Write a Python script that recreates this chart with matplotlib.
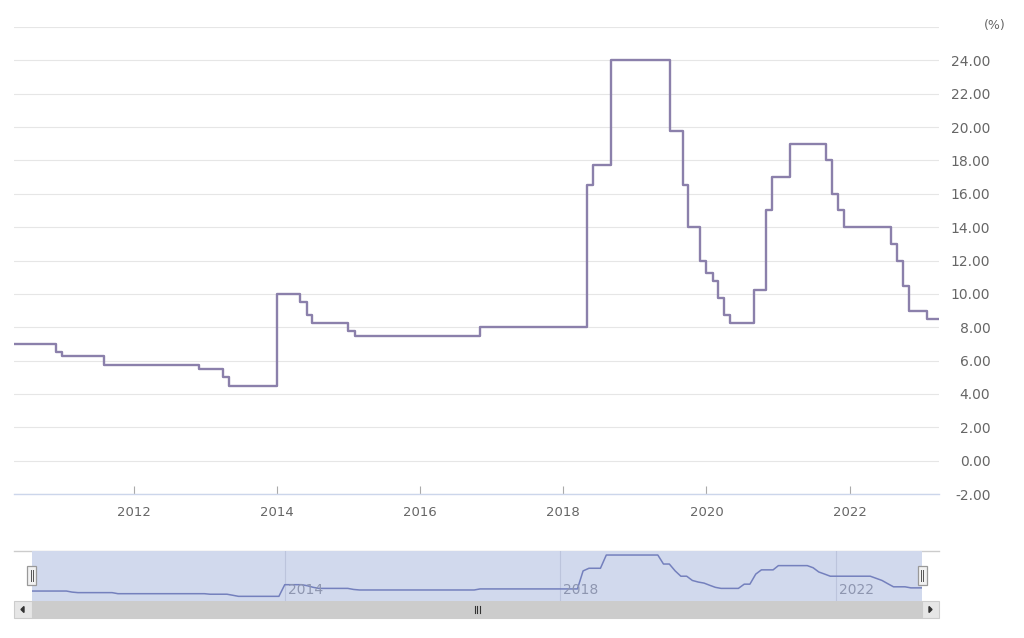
import numpy as np
import pandas as pd
import matplotlib
matplotlib.use('Agg')
import matplotlib.pyplot as plt
import matplotlib.dates as mdates
import matplotlib.transforms as mtransforms
from matplotlib.patches import Rectangle, Polygon

# policy rate (%), months in which the value changed
change_months = ['2010-05', '2010-12', '2011-01', '2011-08', '2012-12', '2013-04',
                 '2013-05', '2014-01', '2014-05', '2014-06', '2014-07', '2015-01',
                 '2015-02', '2016-11', '2018-05', '2018-06', '2018-09', '2019-07',
                 '2019-09', '2019-10', '2019-12', '2020-01', '2020-02', '2020-03',
                 '2020-04', '2020-05', '2020-09', '2020-11', '2020-12', '2021-03',
                 '2021-09', '2021-10', '2021-11', '2021-12', '2022-08', '2022-09',
                 '2022-10', '2022-11', '2023-02']
rates = [7.00, 6.50, 6.25, 5.75, 5.50, 5.00,
         4.50, 10.00, 9.50, 8.75, 8.25, 7.75,
         7.50, 8.00, 16.50, 17.75, 24.00, 19.75,
         16.50, 14.00, 12.00, 11.25, 10.75, 9.75,
         8.75, 8.25, 10.25, 15.00, 17.00, 19.00,
         18.00, 16.00, 15.00, 14.00, 13.00, 12.00,
         10.50, 9.00, 8.50]
last_month = '2023-04'
y_ticks = [-2, 0, 2, 4, 6, 8, 10, 12, 14, 16, 18, 20, 22, 24, 26]
nav_labels = ['2014', '2018', '2022']

dates = pd.to_datetime(change_months)
end = pd.Timestamp(last_month)
x_step = list(dates) + [end]
y_step = rates + [rates[-1]]

# navigator draws the monthly series as a plain line
x_nav, y_nav = [dates[0]], [rates[0]]
for i in range(1, len(dates)):
    prev = dates[i] - pd.DateOffset(months=1)
    if prev > x_nav[-1]:
        x_nav.append(prev)
        y_nav.append(rates[i - 1])
    x_nav.append(dates[i])
    y_nav.append(rates[i])
x_nav.append(end)
y_nav.append(rates[-1])

W, H = 1024, 638
fig = plt.figure(figsize=(W / 100, H / 100), dpi=100)
fig.patch.set_facecolor('white')

# chrome behind (pixel coords)
bg = fig.add_axes([0, 0, 1, 1], zorder=0)
bg.set_xlim(0, W)
bg.set_ylim(H, 0)
bg.axis('off')
bg.plot([14, 939], [551, 551], color='#cccccc', lw=1)
bg.add_patch(Rectangle((14, 601), 925, 17, facecolor='#f2f2f2', edgecolor='none'))
bg.add_patch(Rectangle((31.7, 601), 890.3, 17, facecolor='#cccccc', edgecolor='#cccccc', lw=0.8))
bg.add_patch(Rectangle((14, 601), 17.7, 17, facecolor='#e6e6e6', edgecolor='#cccccc', lw=0.8))
bg.add_patch(Rectangle((922, 601), 17, 17, facecolor='#e6e6e6', edgecolor='#cccccc', lw=0.8))
bg.add_patch(Polygon([[21, 609.5], [24, 606.5], [24, 612.5]], closed=True, color='#333333'))
bg.add_patch(Polygon([[932, 609.5], [929, 606.5], [929, 612.5]], closed=True, color='#333333'))
for gx in (474.5, 477, 479.5):
    bg.plot([gx, gx], [605.5, 613], color='#333333', lw=0.8)

# main chart
ax = fig.add_axes([14 / W, 1 - 494 / H, 925 / W, 467 / H], zorder=2)
ax.step(x_step, y_step, where='post', color='#8b80ab', lw=1.7, zorder=3)
ax.set_xlim(dates[0], end)
ax.set_ylim(-2, 26)
ax.set_facecolor('none')
ax.yaxis.tick_right()
ax.set_yticks(y_ticks)
ax.set_yticklabels([f'{v:.2f}' if v < 26 else '' for v in y_ticks], ha='right')
ax.tick_params(axis='y', length=0, pad=37, labelcolor='#666666', labelsize=10)
ax.xaxis.set_major_locator(mdates.YearLocator(2))
ax.xaxis.set_major_formatter(mdates.DateFormatter('%Y'))
ax.tick_params(axis='x', direction='in', length=6, color='#aaaaaa', width=0.8,
               pad=9, labelcolor='#666666', labelsize=9.5)
ax.yaxis.grid(True, color='#e6e6e6', lw=0.8)
ax.set_axisbelow(True)
for s in ('top', 'left', 'right'):
    ax.spines[s].set_visible(False)
ax.spines['bottom'].set_color('#ccd6eb')
ax.spines['bottom'].set_linewidth(1)
fig.text(1006 / W, 1 - 26 / H, '(%)', ha='right', va='center', fontsize=9, color='#666666')

# navigator
nav = fig.add_axes([31.7 / W, 1 - 601 / H, 890.3 / W, 50 / H], zorder=3)
nav.set_facecolor('#d1d9ed')
nav.plot(x_nav, y_nav, color='#7480bd', lw=1.1)
nav.set_xlim(dates[0], end)
nav.set_ylim(2.3, 25.9)
nav.set_xticks([])
nav.set_yticks([])
for s in nav.spines.values():
    s.set_visible(False)
lbl_tr = mtransforms.offset_copy(nav.get_xaxis_transform(), fig=fig, x=3, y=0, units='dots')
for lab in nav_labels:
    d = pd.Timestamp(lab + '-01-01')
    nav.axvline(d, color='#bcc4dc', lw=0.8, zorder=0)
    nav.text(d, 0.22, lab, transform=lbl_tr, ha='left', va='center',
             fontsize=10, color='#8e96b0')

# handles in front
fg = fig.add_axes([0, 0, 1, 1], zorder=10)
fg.set_xlim(0, W)
fg.set_ylim(H, 0)
fg.axis('off')
fg.patch.set_alpha(0)
for hx in (31.7, 922):
    fg.add_patch(Rectangle((hx - 4.5, 566), 9, 19, facecolor='#f2f2f2', edgecolor='#999999', lw=0.9))
    for dx in (-1.2, 1.2):
        fg.plot([hx + dx, hx + dx], [570, 581], color='#555555', lw=0.7)

fig.savefig('out.png', dpi=100)
